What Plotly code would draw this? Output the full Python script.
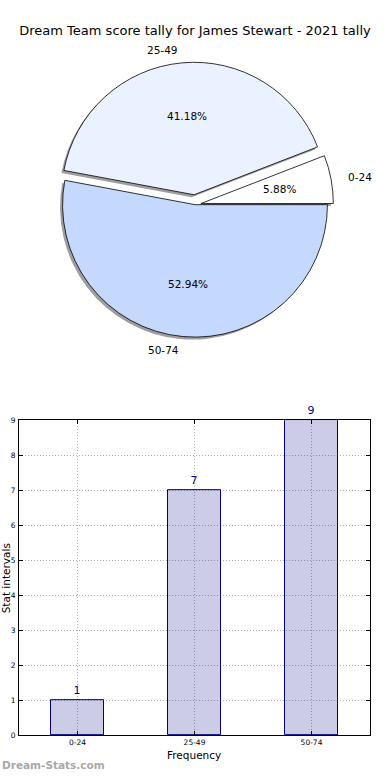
import math
import plotly.graph_objects as go

# ---- data ----
title_text = "Dream Team score tally for James Stewart - 2021 tally"
categories = ["0-24", "25-49", "50-74"]
counts = [1, 7, 9]
pie_colors = ["#ffffff", "#eaf1ff", "#c5d9ff"]
pie_pulls = [0.045, 0.075, 0.0]
y_ticks = list(range(0, 10))

W, H = 390, 780

def px(x):
    return x / W

def py(y):
    return 1 - y / H

# pie geometry (pixels)
PCX, PCY, PR = 195, 203, 134
half = PR * (1 + max(pie_pulls))
dom_x = [px(PCX - half), px(PCX + half)]
dom_y = [py(PCY + half), py(PCY - half)]

total = sum(counts)
first_angle = 360.0 * counts[0] / total
rotation = 90 - first_angle  # first slice starts at 3 o'clock, going counterclockwise

fig = go.Figure()

# shadow pie
sx, sy = 2.5, 2.5
fig.add_trace(go.Pie(
    labels=categories, values=counts, sort=False, direction="counterclockwise",
    rotation=rotation, pull=pie_pulls,
    marker=dict(colors=["rgba(0,0,0,0.38)"] * 3, line=dict(width=0)),
    textinfo="none", hoverinfo="skip", showlegend=False,
    domain=dict(x=[dom_x[0] - sx / W, dom_x[1] - sx / W], y=[dom_y[0] - sy / H, dom_y[1] - sy / H]),
))
# main pie
fig.add_trace(go.Pie(
    labels=categories, values=counts, sort=False, direction="counterclockwise",
    rotation=rotation, pull=pie_pulls,
    marker=dict(colors=pie_colors, line=dict(color="#000000", width=0.8)),
    textinfo="none", showlegend=False,
    domain=dict(x=dom_x, y=dom_y),
))

annotations = []
start = 0.0
for cat, v, pull in zip(categories, counts, pie_pulls):
    span = 360.0 * v / total
    mid = math.radians(start + span / 2)
    start += span
    c, s = math.cos(mid), math.sin(mid)
    cx = PCX + pull * PR * c
    cy = PCY - pull * PR * s
    lx, ly = cx + 1.1 * PR * c, cy - 1.1 * PR * s
    annotations.append(dict(
        x=px(lx), y=py(ly), xref="paper", yref="paper", text=cat, showarrow=False,
        xanchor="left" if c > 0 else "right", yanchor="middle",
        font=dict(size=10.5, color="#000000"),
    ))
    tx, ty = cx + 0.6 * PR * c, cy - 0.6 * PR * s
    annotations.append(dict(
        x=px(tx), y=py(ty), xref="paper", yref="paper",
        text=f"{100.0 * v / total:.2f}%", showarrow=False,
        xanchor="center", yanchor="middle",
        font=dict(size=10.5, color="#000000"),
    ))

# bar chart
fig.add_trace(go.Bar(
    x=categories, y=counts, width=0.45,
    marker=dict(color="rgba(0,0,128,0.2)", line=dict(color="#000080", width=1)),
    text=[str(v) for v in counts], textposition="outside", cliponaxis=False,
    textfont=dict(color="#00008b", size=11),
    showlegend=False, xaxis="x", yaxis="y",
))

axis_common = dict(
    showline=True, linecolor="#000000", linewidth=1, mirror="ticks",
    ticks="inside", ticklen=4, tickcolor="#000000", tickwidth=1,
    showgrid=True, gridcolor="#b0b0b0", gridwidth=1, griddash="1px,2px",
    zeroline=False, tickfont=dict(size=7.5, color="#000000"),
)

fig.update_layout(
    width=W, height=H, autosize=False,
    margin=dict(l=0, r=0, t=0, b=0),
    paper_bgcolor="#ffffff", plot_bgcolor="#ffffff",
    font=dict(family="DejaVu Sans", color="#000000"),
    title=dict(text=title_text, x=0.5, xanchor="center", y=py(30), yanchor="middle",
               font=dict(size=13, color="#000000")),
    xaxis=dict(domain=[px(19), px(370)], type="category", categoryorder="array",
               categoryarray=categories, range=[-0.5, 2.5], anchor="y", **axis_common),
    yaxis=dict(domain=[py(740), py(421)], range=[0, 9], tickvals=y_ticks, anchor="x",
               ticklabelstandoff=1, **axis_common),
    bargap=0,
)

annotations.append(dict(x=px(194), y=py(760), xref="paper", yref="paper", text="Frequency",
                        showarrow=False, xanchor="center", yanchor="middle",
                        font=dict(size=10.5, color="#000000")))
annotations.append(dict(x=px(6), y=py(581), xref="paper", yref="paper", text="Stat intervals",
                        showarrow=False, xanchor="center", yanchor="middle", textangle=-90,
                        font=dict(size=10.5, color="#000000")))
annotations.append(dict(x=px(0), y=py(770), xref="paper", yref="paper", text="<b>Dream-Stats.com</b>",
                        showarrow=False, xanchor="left", yanchor="middle",
                        font=dict(size=10.5, color="#a8a8a8")))
fig.update_layout(annotations=annotations)

fig.write_html("out.html", config={"displayModeBar": False},
               post_script="document.body.style.margin='0';document.body.style.overflow='hidden';")
